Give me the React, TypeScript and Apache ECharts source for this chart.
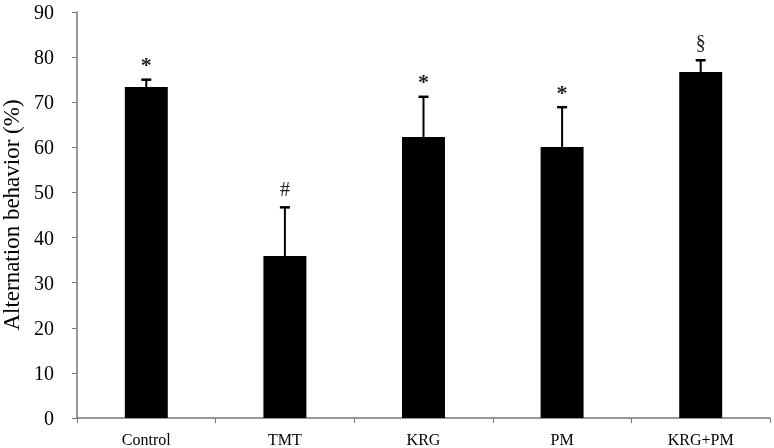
import React, { useEffect, useRef } from "react";
import * as echarts from "echarts";

const categories = ["Control", "TMT", "KRG", "PM", "KRG+PM"];
const means = [73.4, 35.9, 62.3, 60.1, 76.7];
const errors = [1.6, 10.8, 8.9, 8.8, 2.6];
const marks = ["*", "#", "*", "*", "§"];
const yTicks = { min: 0, max: 90, interval: 10 };

export default function App() {
  const ref = useRef<HTMLDivElement>(null);
  useEffect(() => {
    if (!ref.current) return;
    const chart = echarts.init(ref.current, null, { renderer: "svg" });
    const font = "'Liberation Serif', 'Times New Roman', serif";
    chart.setOption({
      animation: false,
      grid: { left: 77, top: 12, right: 4, bottom: 30, outerBoundsMode: "none", containLabel: false },
      xAxis: {
        type: "category",
        data: categories,
        axisLine: { lineStyle: { color: "#777", width: 1.5 } },
        axisTick: { show: true, alignWithLabel: false, length: 5, lineStyle: { color: "#777" } },
        axisLabel: { color: "#000", fontFamily: font, fontSize: 16, margin: 13 },
      },
      yAxis: {
        type: "value",
        min: yTicks.min,
        max: yTicks.max,
        interval: yTicks.interval,
        name: "Alternation behavior (%)",
        nameLocation: "middle",
        nameGap: 53,
        nameTextStyle: { color: "#000", fontFamily: font, fontSize: 23 },
        axisLine: { show: true, lineStyle: { color: "#777", width: 1.5 } },
        axisTick: { show: true, length: 5, lineStyle: { color: "#777" } },
        splitLine: { show: false },
        axisLabel: { color: "#000", fontFamily: font, fontSize: 20, margin: 23 },
      },
      series: [
        {
          type: "bar",
          data: means,
          barWidth: "31%",
          itemStyle: { color: "#000" },
        },
        {
          type: "custom",
          data: means.map((m, i) => [i, m, m + errors[i]]),
          z: 5,
          renderItem: (params: any, api: any) => {
            const i = api.value(0);
            const base = api.coord([i, api.value(1)]);
            const top = api.coord([i, api.value(2)]);
            const cap = 5;
            const mk = marks[params.dataIndex];
            return {
              type: "group",
              children: [
                {
                  type: "line",
                  shape: { x1: base[0], y1: base[1], x2: top[0], y2: top[1] },
                  style: { stroke: "#000", lineWidth: 2 },
                },
                {
                  type: "line",
                  shape: { x1: top[0] - cap, y1: top[1], x2: top[0] + cap, y2: top[1] },
                  style: { stroke: "#000", lineWidth: 2.5 },
                },
                {
                  type: "text",
                  x: top[0],
                  y: top[1] - (mk === "*" ? 4 : 8),
                  style: {
                    text: mk,
                    fill: "#222",
                    font: `${mk === "*" ? "bold 22px" : "20px"} ${font}`,
                    textAlign: "center",
                    textVerticalAlign: "bottom",
                  },
                },
              ],
            };
          },
        },
      ],
    });
    return () => chart.dispose();
  }, []);
  return (
    <div
      ref={ref}
      style={{ position: "fixed", left: 0, top: 0, width: 774, height: 448 }}
    />
  );
}
